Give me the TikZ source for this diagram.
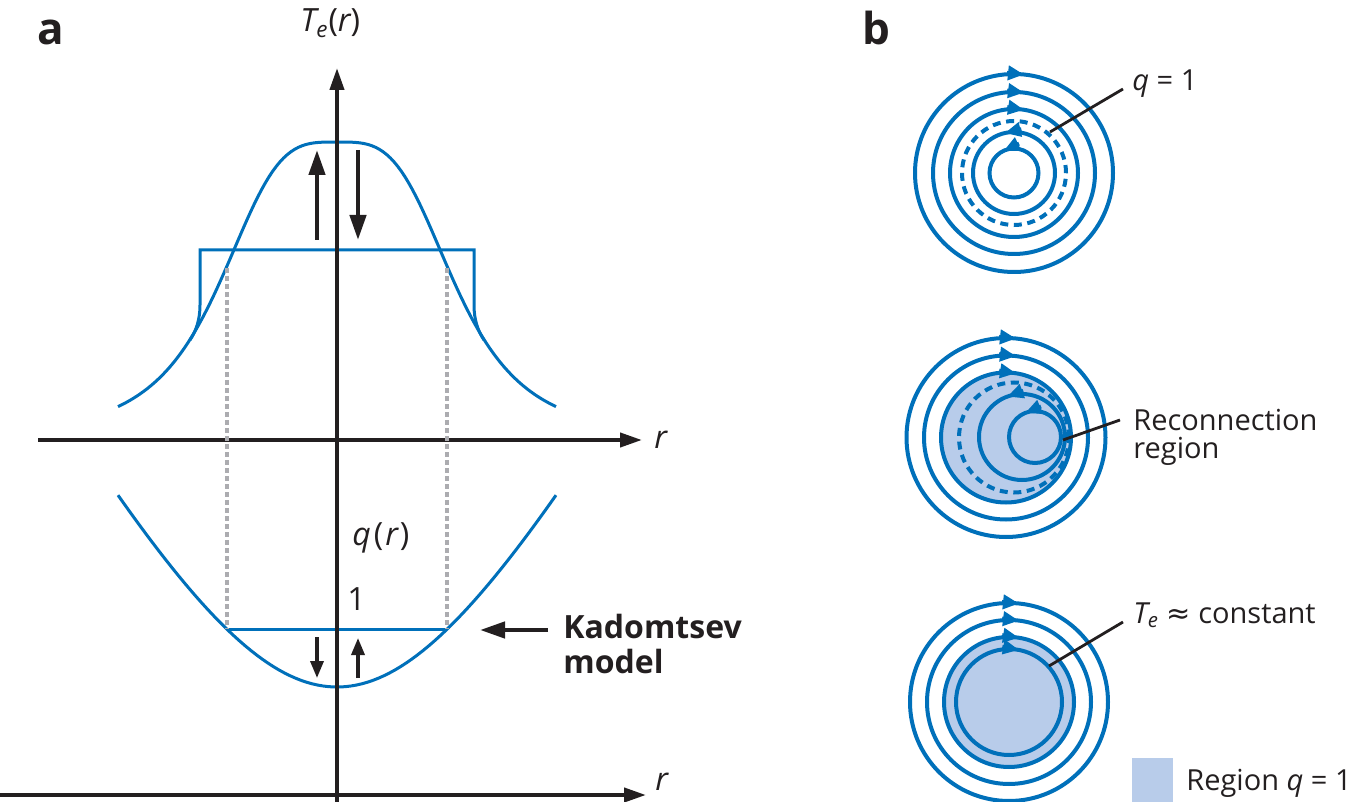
\documentclass[tikz,border=0pt]{standalone}
\usepackage{fontspec}
\setmainfont{Open Sans}
\newfontfamily\symfont{DejaVu Sans}
\usetikzlibrary{arrows.meta}
\definecolor{kblue}{RGB}{0,112,186}
\definecolor{kfill}{RGB}{184,204,234}
\definecolor{kgrey}{RGB}{172,172,176}
\definecolor{kblack}{RGB}{35,31,32}
\tikzset{
    axis/.style={kblack, line width=2pt, -{Triangle[length=11pt,width=7pt]}},
    profile/.style={kblue, line width=1.5pt},
    guide/.style={kgrey, line width=2pt, dash pattern=on 2.5pt off 1.5pt},
    bigarrow/.style={kblack, line width=2.2pt, -{Triangle[length=12.5pt,width=8pt]}},
    smallarrow/.style={kblack, line width=1.7pt, -{Triangle[length=8.5pt,width=6.5pt]}},
    fieldline/.style={kblue, line width=2pt},
    fieldarrow/.style={kblue, line width=2pt, -{Triangle[length=8pt,width=7pt]}},
    leader/.style={kblack, line width=1.4pt},
    lbl/.style={inner sep=0pt, text=kblack, font=\fontsize{16}{17.5}\selectfont},
    blbl/.style={lbl, font=\fontsize{16}{17.5}\selectfont\bfseries},
    rlbl/.style={inner sep=0pt, text=kblack, font=\fontsize{14.5}{14}\selectfont},
    panel/.style={inner sep=0pt, text=kblack, font=\fontsize{22}{22}\selectfont\bfseries},
}
\begin{document}
\begin{tikzpicture}[x=0.5pt,y=0.5pt]
    \useasboundingbox (0,0) rectangle (1361,-802);

    % ---- panel a: profiles
    \node[panel, anchor=base west] (pa) at (37,-45) {a};
    \draw[profile] plot[domain=-219:219, samples=120]
        ({337+\x}, {-440+298/(1+((abs(\x)+0.01)/121.2)^3.5)});
    \draw[profile] (190,-340) .. controls (196,-331) and (200,-320) .. (200,-305)
        -- (200,-250) -- (474,-250) -- (474,-305)
        .. controls (474,-320) and (478,-331) .. (484,-340);
    \draw[profile] plot[domain=-219:219, samples=80]
        ({337+\x}, {-687+318.7*(sqrt(1+(\x/175)^2)-1)});
    \coordinate (qflatl) at (227,-629);
    \coordinate (qflatr) at (447,-629);
    \draw[profile] (qflatl) -- (qflatr);

    % axes
    \node[lbl, anchor=west] (rtop) at (654,-440) {\itshape r};
    \node[lbl, anchor=base west] (rbot) at (655,-790) {\itshape r};
    \node[lbl, anchor=base west] (telabel) at (300,-32)
        {\itshape T\textsubscript{e}\upshape(\itshape r\upshape)};
    \coordinate (toptail) at (38,-440);
    \coordinate (bottail) at (0,-795);
    \coordinate (bothead) at (646,-795);
    \coordinate (vbase) at (337,-802);
    \coordinate (vtip) at (337,-68);
    \draw[axis, shorten >=6pt] (toptail) -- (rtop.west);
    \draw[axis] (bottail) -- (bothead);
    \draw[axis] (vbase) -- (vtip);

    % guides
    \coordinate (gl) at (227,-268);
    \coordinate (gr) at (447,-268);
    \draw[guide] (gl) -- (qflatl);
    \draw[guide] (gr) -- (qflatr);

    % crash arrows
    \draw[bigarrow] (317,-240) -- (317,-150);
    \draw[bigarrow] (358,-150) -- (358,-240);
    \draw[smallarrow] (317,-637) -- (317,-678);
    \draw[smallarrow] (358,-678) -- (358,-638);

    \node[lbl, anchor=base west] (qlabel) at (352,-545)
        {\itshape q\kern1.5pt\upshape(\kern1pt\itshape r\kern1pt\upshape)};
    \node[lbl, anchor=base west] (qone) at (347,-610) {1};
    \node[blbl, anchor=north west, align=left] (kad) at (563,-614) {Kadomtsev\\model};
    \coordinate (kadtail) at (548,-630);
    \coordinate (kadtip) at (480,-630);
    \draw[bigarrow] (kadtail) -- (kadtip);

    % ---- panel b: flux surfaces
    \node[panel, anchor=base west] (pb) at (862,-45) {b};

    % before the crash
    \coordinate (c1) at (1014,-173);
    \foreach \r in {99,81,64,41,24.5}
        \draw[fieldline] (c1) circle[radius=\r];
    \draw[fieldline, dash pattern=on 4pt off 2.8pt] (c1) circle[radius=52];
    \foreach \r in {99,81,64} {
        \pgfmathsetmacro\t{acos(10/\r)}
        \draw[fieldarrow] ([shift={(\t:\r)},shift={({-17*sin(\t)},{17*cos(\t)})}]c1)
            -- ([shift={(\t:\r)}]c1);
    }
    \foreach \r/\t in {41/103, 24.5/115}
        \draw[fieldarrow] ([shift={(\t:\r)},shift={({17*sin(\t)},{-17*cos(\t)})}]c1)
            -- ([shift={(\t:\r)}]c1);
    \coordinate (q1pt) at (1050,-132);
    \coordinate (q1end) at (1123,-89);
    \node[rlbl, anchor=base west] (q1lbl) at (1132,-91) {\itshape q \upshape= 1};
    \draw[leader] (q1pt) -- (q1end);

    % reconnection
    \coordinate (c2) at (1006,-437.5);
    \fill[kfill] (c2) circle[radius=65];
    \foreach \r in {99.5,82,65}
        \draw[fieldline] (c2) circle[radius=\r];
    \draw[fieldline, dash pattern=on 4pt off 2.8pt] (1014,-437.5) circle[radius=55];
    \coordinate (c2b) at (1022,-437);
    \coordinate (c2c) at (1035,-437);
    \draw[fieldline] (c2b) circle[radius=43];
    \draw[fieldline] (c2c) circle[radius=26];
    \foreach \r in {99.5,82,65} {
        \pgfmathsetmacro\t{acos(10/\r)}
        \draw[fieldarrow] ([shift={(\t:\r)},shift={({-17*sin(\t)},{17*cos(\t)})}]c2)
            -- ([shift={(\t:\r)}]c2);
    }
    \draw[fieldarrow] ([shift={(110:43)},shift={({17*sin(110)},{-17*cos(110)})}]c2b)
        -- ([shift={(110:43)}]c2b);
    \draw[fieldarrow] ([shift={(112:26)},shift={({17*sin(112)},{-17*cos(112)})}]c2c)
        -- ([shift={(112:26)}]c2c);
    \coordinate (recpt) at (1063,-440);
    \coordinate (recend) at (1120,-420);
    \node[rlbl, anchor=north west, align=left] (reclbl) at (1133,-409) {Reconnection\\region};
    \draw[leader] (recpt) -- (recend);

    % after the crash
    \coordinate (c3) at (1009,-702);
    \fill[kfill] (c3) circle[radius=65];
    \foreach \r in {99,82,65,53} {
        \draw[fieldline] (c3) circle[radius=\r];
        \pgfmathsetmacro\t{acos(10/\r)}
        \draw[fieldarrow] ([shift={(\t:\r)},shift={({-17*sin(\t)},{17*cos(\t)})}]c3)
            -- ([shift={(\t:\r)}]c3);
    }
    \coordinate (tept) at (1049,-666);
    \coordinate (teend) at (1123,-622);
    \node[rlbl, anchor=base west] (telbl) at (1133,-623)
        {\itshape T\textsubscript{e}\upshape\ {\symfont ≈} constant};
    \draw[leader] (tept) -- (teend);

    % legend
    \fill[kfill] (1132,-758) rectangle (1173,-812);
    \node[rlbl, anchor=base west] (leglbl) at (1186,-790) {Region \itshape q \upshape= 1};
\end{tikzpicture}
\end{document}
